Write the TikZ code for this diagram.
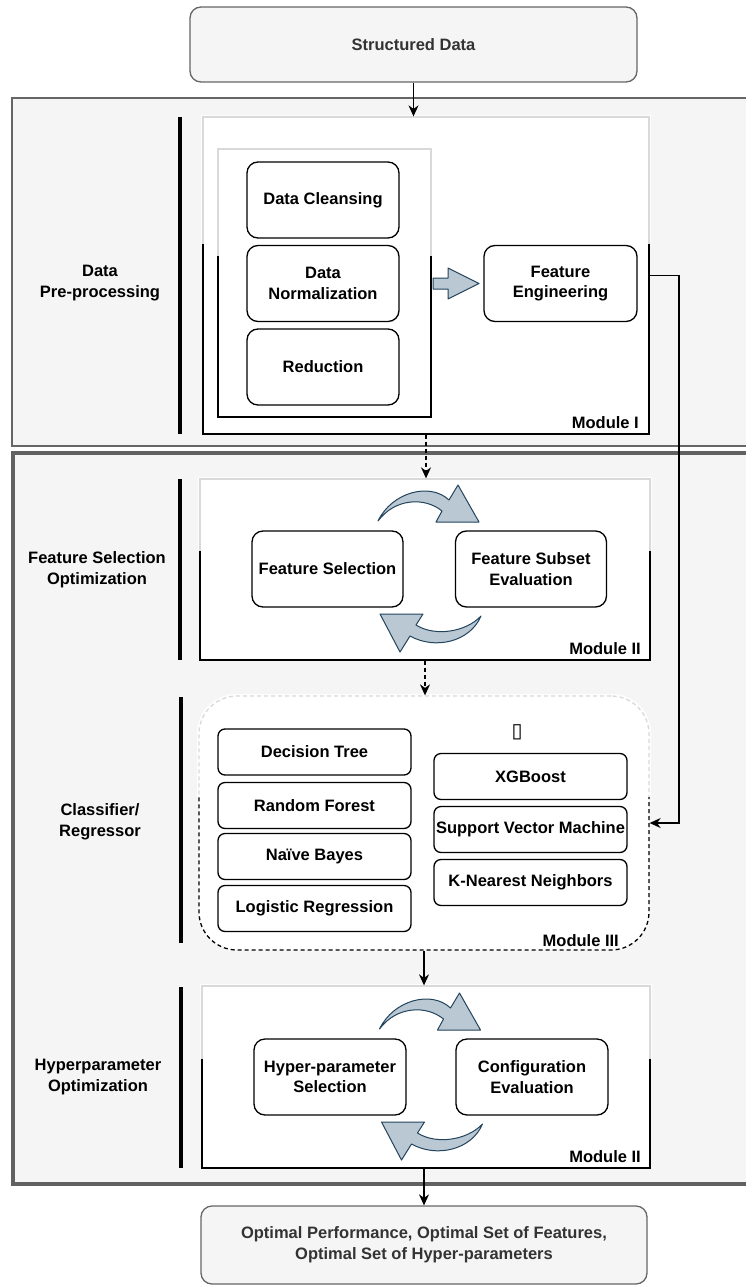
\documentclass[tikz,border=0pt]{standalone}
\usepackage{fontspec}
\setmainfont{Liberation Sans}
\newfontfamily\symfont{DejaVu Sans}
\usetikzlibrary{arrows.meta,calc}

\definecolor{panelgray}{HTML}{F5F5F5}
\definecolor{edgegray}{HTML}{666666}
\definecolor{txtgray}{HTML}{333333}
\definecolor{bluefill}{HTML}{BAC8D3}
\definecolor{blueedge}{HTML}{23445D}

\tikzset{
  lbl/.style={font=\fontsize{16.5}{20.6}\selectfont\bfseries, align=center, inner sep=0pt},
  outerpanel/.style={draw=edgegray, fill=panelgray, inner sep=0pt},
  modbox/.style={draw=black, line width=1.3pt, fill=white, inner sep=0pt},
  rbox/.style={lbl, draw=black, line width=1.3pt, fill=white, rounded corners=11pt},
  tallbox/.style={rbox, minimum width=152pt, minimum height=76pt},
  algbox/.style={rbox, rounded corners=7pt, minimum width=193pt, minimum height=46pt},
  endbox/.style={lbl, text=txtgray, draw=edgegray, line width=1.3pt, fill=panelgray, rounded corners=11pt},
  bar/.style={line width=4.5pt},
  conn/.style={line width=1.3pt, -{Stealth[length=11pt,width=10pt]}},
  dashconn/.style={conn, dash pattern=on 4pt off 3pt},
  loopshape/.style={draw=blueedge, fill=bluefill, line width=1pt, line join=round},
  modlabel/.style={lbl, anchor=east}
}

% white sheen over the upper 40% of a module frame
\newcommand\glassover[1]{%
  \fill[white, fill opacity=0.85] ([shift={(-1.5pt,1.5pt)}]#1.north west)
    rectangle ($(#1.north east)!0.4!(#1.south east)+(1.5pt,0pt)$);}

% pair of curved arrows between two side-by-side boxes
\newcommand\cyclearrows{%
  \filldraw[loopshape] (378,521) .. controls (392,492) and (430,482) .. (449,500)
    -- (458,485) -- (479,522) -- (436,522) -- (442,511)
    .. controls (425,497) and (395,498) .. (378,521) -- cycle;
  \filldraw[loopshape] (481,616) .. controls (470,642) and (435,650) .. (410,636)
    -- (400,652) -- (380,614) -- (423,614) -- (416,625)
    .. controls (435,637) and (466,632) .. (481,616) -- cycle;}

\begin{document}
\begin{tikzpicture}[x=1pt,y=-1pt]
\useasboundingbox (0,0) rectangle (746,1287);

% outer panels
\node[outerpanel, line width=1.6pt, minimum width=748pt, minimum height=348pt] (pre) at (386,272) {};
\node[outerpanel, line width=4pt, draw=edgegray!95!black, minimum width=747pt, minimum height=731pt] (opt) at (386.5,818.5) {};

% section bars
\draw[bar] (180,117) -- (180,434);
\draw[bar] (180,479) -- (180,660);
\draw[bar] (181,697) -- (181,943);
\draw[bar] (181,987) -- (181,1168);

% section titles
\node[lbl] (tpre) at (100,283) {Data\\Pre-processing};
\node[lbl] (tfs) at (97,570) {Feature Selection\\Optimization};
\node[lbl] (tcl) at (100,822) {Classifier/\\Regressor};
\node[lbl] (thp) at (98,1077) {Hyperparameter\\Optimization};

% input
\node[endbox, minimum width=447pt, minimum height=75pt] (sd) at (413.5,44.5) {Structured Data};

% Module I
\node[modbox, minimum width=446pt, minimum height=317pt] (m1) at (426,275.5) {};
\glassover{m1}
\node[modbox, minimum width=213pt, minimum height=268pt] (prep) at (324.5,283) {};
\glassover{prep}
\node[tallbox] (dc) at (323,200) {Data Cleansing};
\node[tallbox] (dn) at (323,283.5) {Data\\Normalization};
\node[tallbox] (rd) at (323,367) {Reduction};
\node[tallbox, minimum width=153pt] (fe) at (560.5,283.5) {Feature\\Engineering};
\filldraw[loopshape] (433,278) -- (448,278) -- (448,268) -- (479,283.5)
  -- (448,299) -- (448,289) -- (433,289) -- cycle;
\node[modlabel] (l1) at (639,423) {Module I};

% Module II (feature selection)
\node[modbox, minimum width=450pt, minimum height=181pt] (m2) at (425,569.5) {};
\glassover{m2}
\node[tallbox, minimum width=151pt] (fs) at (327.5,569) {Feature Selection};
\node[tallbox, minimum width=151pt] (fse) at (531,569) {Feature Subset\\Evaluation};
\cyclearrows
\node[modlabel] (l2) at (641,649) {Module II};

% Module III (learners)
\node[modbox, dash pattern=on 4pt off 3pt, rounded corners=38pt, minimum width=450pt, minimum height=254pt] (m3) at (424,823) {};
\begin{scope}
  \clip[rounded corners=39.5pt] ([shift={(-1.5pt,1.5pt)}]m3.north west) rectangle ([shift={(1.5pt,-1.5pt)}]m3.south east);
  \fill[white, fill opacity=0.85] ([shift={(-2pt,2pt)}]m3.north west)
    rectangle ($(m3.north east)!0.4!(m3.south east)+(2pt,0pt)$);
\end{scope}
\node[inner sep=0pt] (glyph) at (517,732) {\symfont\fontsize{20}{20}\selectfont ▯};
\node[algbox] (dt) at (314.5,752) {Decision Tree};
\node[algbox] (rf) at (314.5,805.5) {Random Forest};
\node[algbox] (nb) at (314.5,856.5) {Naïve Bayes};
\node[algbox] (lr) at (314.5,908.5) {Logistic Regression};
\node[algbox] (xg) at (530.5,776.5) {XGBoost};
\node[algbox] (svm) at (530.5,829.5) {Support Vector Machine};
\node[algbox] (knn) at (530.5,882.5) {K-Nearest Neighbors};
\node[modlabel] (l3) at (619,941) {Module III};

% Module II (hyper-parameters)
\node[modbox, minimum width=448pt, minimum height=182pt] (m4) at (426,1077) {};
\glassover{m4}
\node[tallbox] (hs) at (330,1077) {Hyper-parameter\\Selection};
\node[tallbox] (ce) at (532,1077) {Configuration\\Evaluation};
\begin{scope}[shift={(1.5,508)}]
  \cyclearrows
\end{scope}
\node[modlabel] (l4) at (641,1157) {Module II};

% output
\node[endbox, minimum width=446pt, minimum height=78pt] (out) at (424,1245)
  {Optimal Performance, Optimal Set of Features,\\Optimal Set of Hyper-parameters};

% connectors
\draw[conn] (sd.south) -- (sd.south |- m1.north);
\draw[dashconn] (m1.south) -- (m1.south |- m2.north);
\draw[dashconn] (m2.south) -- (m2.south |- m3.north);
\draw[conn] (m3.south) -- (m3.south |- m4.north);
\draw[conn] (m4.south -| out.north) -- (out.north);
\coordinate (side) at (679,0);
\draw[conn] (m1.east) -- (m1.east -| side) |- (m3.east);
\end{tikzpicture}
\end{document}
